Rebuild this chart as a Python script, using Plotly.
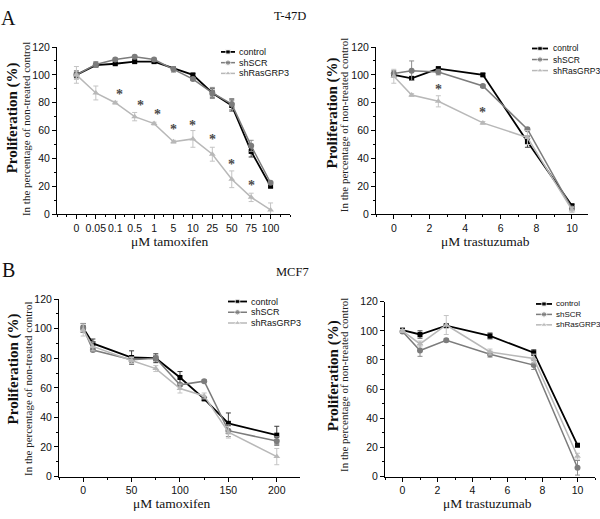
import plotly.graph_objects as go

W, H = 600, 519
SERIF = "Liberation Serif, Times New Roman, serif"
SANS = "Liberation Sans, Arial, sans-serif"

# ---------------- data ----------------
series_names = ["control", "shSCR", "shRasGRP3"]

# Panel A (T-47D), tamoxifen (categorical doses)
a1_labels = ["0", "0.05", "0.1", "0.5", "1", "5", "10", "25", "50", "75", "100"]
a1_control = [100, 107, 108, 109.5, 109.5, 104.5, 100, 87, 78, 45, 20]
a1_control_err = [2, 1, 1, 1, 1, 1, 1, 3, 4, 4, 1]
a1_shscr = [100, 107.5, 111, 113, 111, 104, 97, 87, 79, 49, 22.5]
a1_shscr_err = [3, 2, 1, 1, 1, 2, 1, 4, 4, 4, 1]
a1_shras = [100, 87, 80, 70, 65, 52, 54, 43, 25, 12, 3]
a1_shras_err = [6, 5, 1, 3, 1, 1, 6, 5, 6, 3, 5]
a1_sig_x = [2.2, 3.3, 4.2, 5.0, 6.0, 7.0, 8.0, 9.0]
a1_sig_y = [88, 80, 74, 63, 66, 56, 38, 23]

# Panel A (T-47D), trastuzumab
a2_dose = [0, 1, 2.5, 5, 7.5, 10]
a2_control = [100, 97.5, 104.5, 100, 52, 6]
a2_control_err = [1, 1, 1, 1, 4, 1]
a2_shscr = [101, 103, 102, 92, 61, 4]
a2_shscr_err = [2, 7, 2, 1, 1, 1]
a2_shras = [99, 85.5, 81, 65.5, 55, 3]
a2_shras_err = [5, 1, 4, 1, 5, 2]
a2_sig_x = [2.5, 5]
a2_sig_y = [91.5, 75]

# Panel B (MCF7), tamoxifen
b1_dose = [0, 10, 50, 75, 100, 125, 150, 200]
b1_control = [100.5, 90, 80.5, 80, 67, 52.5, 36, 28]
b1_control_err = [3, 3, 4.5, 3, 4, 1, 7, 6]
b1_shscr = [100.5, 85.5, 79, 80, 62, 64.5, 31, 24]
b1_shscr_err = [3, 1, 2, 2, 1, 1, 4, 3]
b1_shras = [99, 88, 78.5, 73, 59.5, 54.5, 30, 13.5]
b1_shras_err = [4, 3, 2, 2, 3, 2, 4, 5.5]

# Panel B (MCF7), trastuzumab
b2_dose = [0, 1, 2.5, 5, 7.5, 10]
b2_control = [100.5, 97.5, 103.5, 96.5, 85, 21.5]
b2_control_err = [1, 2.5, 1, 2, 2, 1]
b2_shscr = [99.5, 86.5, 93.5, 84, 76.5, 6]
b2_shscr_err = [1, 4, 1, 2, 3, 5]
b2_shras = [100, 91, 104, 85.5, 81, 14]
b2_shras_err = [1, 2, 6.5, 2, 3, 2]

# ---------------- styles ----------------
colors = ["#000000", "#7c7c7c", "#b8b8b8"]
errcolors = ["#3a3a3a", "#8c8c8c", "#c4c4c4"]
symbols = ["square", "circle", "triangle-up"]
msizes = [5, 6, 6]
lwidths = [1.8, 1.5, 1.5]


def fx(p):
    return p / W


def fy(p):
    return 1 - p / H


panels = [
    dict(x=list(range(len(a1_labels))), ys=[a1_control, a1_shscr, a1_shras],
         errs=[a1_control_err, a1_shscr_err, a1_shras_err],
         dom_x=(57, 290), dom_y=(42, 213), xrange=[-1, 11],
         xticks=dict(tickmode="array", tickvals=list(range(len(a1_labels))), ticktext=a1_labels),
         minor_dtick=0.5, sig=(a1_sig_x, a1_sig_y), xtitle="\u03bcM tamoxifen", xtitle_x=170,
         yt=dict(bx=12, by=115, sx=26, sy=126),
         leg=dict(l0=221, l1=235, tx=237, r0=47, dr=11, fs=9)),
    dict(x=a2_dose, ys=[a2_control, a2_shscr, a2_shras],
         errs=[a2_control_err, a2_shscr_err, a2_shras_err],
         dom_x=(376, 588), dom_y=(42, 213), xrange=[-1, 10.9],
         xticks=dict(tickmode="linear", tick0=0, dtick=2),
         minor_dtick=1, sig=(a2_sig_x, a2_sig_y), xtitle="\u03bcM trastuzumab", xtitle_x=485,
         yt=dict(bx=332, by=110, sx=344, sy=122),
         leg=dict(l0=532, l1=548, tx=551, r0=43.5, dr=11.3, fs=8.5)),
    dict(x=b1_dose, ys=[b1_control, b1_shscr, b1_shras],
         errs=[b1_control_err, b1_shscr_err, b1_shras_err],
         dom_x=(59, 300), dom_y=(300, 481.7), xrange=[-25, 224],
         xticks=dict(tickmode="linear", tick0=0, dtick=50),
         minor_dtick=25, sig=None, xtitle="\u03bcM tamoxifen", xtitle_x=172,
         yt=dict(bx=13, by=372, sx=28, sy=392),
         leg=dict(l0=228, l1=247, tx=249, r0=302.5, dr=11, fs=9)),
    dict(x=b2_dose, ys=[b2_control, b2_shscr, b2_shras],
         errs=[b2_control_err, b2_shscr_err, b2_shras_err],
         dom_x=(385, 595), dom_y=(302.7, 481.7), xrange=[-1, 11],
         xticks=dict(tickmode="linear", tick0=0, dtick=2),
         minor_dtick=1, sig=None, xtitle="\u03bcM trastuzumab", xtitle_x=487,
         yt=dict(bx=333, by=379, sx=344, sy=388),
         leg=dict(l0=536, l1=552, tx=554, r0=305, dr=10.7, fs=8)),
]

fig = go.Figure()
annotations = []
layout = dict(
    width=W, height=H, margin=dict(l=0, r=0, t=0, b=0),
    paper_bgcolor="white", plot_bgcolor="rgba(0,0,0,0)", showlegend=False,
)

for i, p in enumerate(panels, start=1):
    xa = "x" if i == 1 else f"x{i}"
    ya = "y" if i == 1 else f"y{i}"
    for k in range(3):
        fig.add_trace(go.Scatter(
            x=p["x"], y=p["ys"][k], xaxis=xa, yaxis=ya, mode="lines+markers",
            name=series_names[k], cliponaxis=False,
            line=dict(color=colors[k], width=lwidths[k]),
            marker=dict(symbol=symbols[k], size=msizes[k], color=colors[k]),
            error_y=dict(type="data", array=p["errs"][k], color=errcolors[k], thickness=1, width=2.5),
        ))
    xkey = "xaxis" if i == 1 else f"xaxis{i}"
    ykey = "yaxis" if i == 1 else f"yaxis{i}"
    layout[xkey] = dict(
        domain=[fx(p["dom_x"][0]), fx(p["dom_x"][1])], anchor=ya, range=p["xrange"],
        showline=True, linecolor="#000", linewidth=1, showgrid=False, zeroline=False,
        ticks="outside", ticklen=4, tickcolor="#000", tickwidth=1, tickangle=0,
        tickfont=dict(family=SANS, size=10.5, color="#111"),
        minor=dict(ticks="outside", ticklen=2, dtick=p["minor_dtick"], tick0=0, tickcolor="#000"),
        **p["xticks"],
    )
    layout[ykey] = dict(
        domain=[fy(p["dom_y"][1]), fy(p["dom_y"][0])], anchor=xa, range=[0, 120],
        showline=True, linecolor="#000", linewidth=1, showgrid=False, zeroline=False,
        tickmode="linear", tick0=0, dtick=20,
        ticks="outside", ticklen=4, tickcolor="#000", tickwidth=1,
        tickfont=dict(family=SANS, size=10.5, color="#111"),
        minor=dict(ticks="outside", ticklen=2, dtick=10, tick0=0, tickcolor="#000"),
    )
    # significance asterisks
    if p["sig"]:
        for sx, sy in zip(*p["sig"]):
            annotations.append(dict(x=sx, y=sy, xref=xa, yref=ya, text="<b>*</b>", showarrow=False,
                                    yshift=-3, font=dict(family=SERIF, size=14, color="#4a4a4a")))
    # x-axis title
    xt_y = p["dom_y"][1] + 28
    annotations.append(dict(x=fx(p["xtitle_x"]), y=fy(xt_y), xref="paper", yref="paper",
                            text=p["xtitle"], showarrow=False, xanchor="center", yanchor="middle",
                            font=dict(family=SERIF, size=13.5, color="#111")))
    # y-axis titles
    yt = p["yt"]
    annotations.append(dict(x=fx(yt["bx"]), y=fy(yt["by"]), xref="paper", yref="paper",
                            text="<b>Proliferation (%)</b>", textangle=-90, showarrow=False,
                            xanchor="center", yanchor="middle",
                            font=dict(family=SERIF, size=15, color="#111")))
    annotations.append(dict(x=fx(yt["sx"]), y=fy(yt["sy"]), xref="paper", yref="paper",
                            text="In the percentage of non-treated control", textangle=-90,
                            showarrow=False, xanchor="center", yanchor="middle",
                            font=dict(family=SERIF, size=11, color="#222")))

# overlay axis in pixel units for the compact legends
layout["xaxis5"] = dict(domain=[0, 1], range=[0, W], visible=False, fixedrange=True)
layout["yaxis5"] = dict(domain=[0, 1], range=[H, 0], visible=False, fixedrange=True, anchor="x5")
for p in panels:
    lg = p["leg"]
    for k in range(3):
        ry = lg["r0"] + k * lg["dr"]
        mid = (lg["l0"] + lg["l1"]) / 2
        fig.add_trace(go.Scatter(
            x=[lg["l0"], mid, lg["l1"]], y=[ry, ry, ry], xaxis="x5", yaxis="y5",
            mode="lines+markers", hoverinfo="skip", cliponaxis=False,
            line=dict(color=colors[k], width=lwidths[k]),
            marker=dict(symbol=symbols[k], size=[0, msizes[k] - 0.5, 0], color=colors[k]),
        ))
        annotations.append(dict(x=fx(lg["tx"]), y=fy(ry), xref="paper", yref="paper",
                                text=series_names[k], showarrow=False, xanchor="left",
                                yanchor="middle", font=dict(family=SANS, size=lg["fs"], color="#111")))

# panel letters and cell-line titles
for txt, x, y, size in [("A", 8, 12, 20), ("B", 8, 270, 20), ("T-47D", 290, 10, 12.5), ("MCF7", 292, 272, 12.5)]:
    annotations.append(dict(x=fx(x), y=fy(y), xref="paper", yref="paper", text=txt, showarrow=False,
                            xanchor="center", yanchor="middle",
                            font=dict(family=SERIF, size=size, color="#111")))

layout["annotations"] = annotations
fig.update_layout(**layout)
fig.write_html("out.html", config={"displayModeBar": False},
               post_script="document.body.style.margin='0';")
